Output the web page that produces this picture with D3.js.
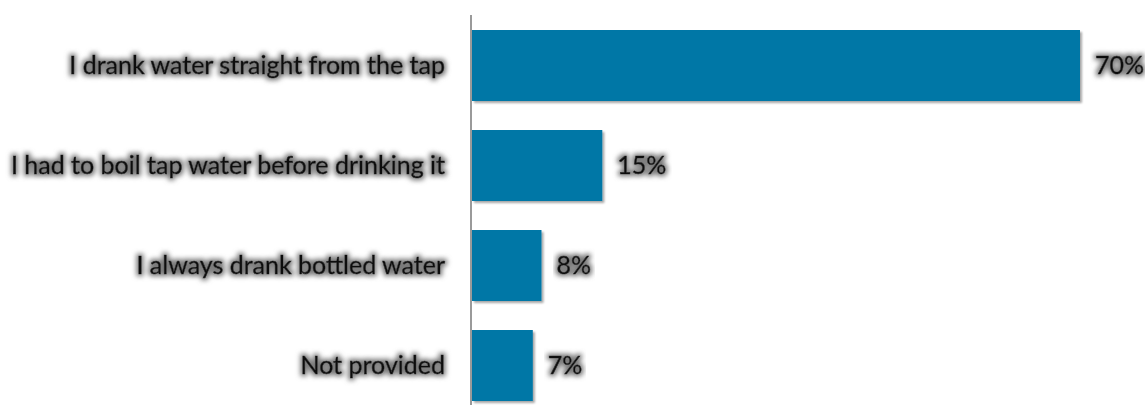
<!DOCTYPE html>
<html>
<head>
<meta charset="utf-8">
<script src="https://cdn.jsdelivr.net/npm/d3@7"></script>
<style>
  html, body { margin: 0; padding: 0; background: #fff; }
  svg { display: block; }
  text { font-family: Lato, "Liberation Sans", sans-serif; }
</style>
</head>
<body>
<script>
// Survey answers and their shares (percent)
const categories = [
  "I drank water straight from the tap",
  "I had to boil tap water before drinking it",
  "I always drank bottled water",
  "Not provided"
];
const values = [70, 15, 8, 7];
const valueLabels = ["70%", "15%", "8%", "7%"];

const W = 1145, H = 405;
const svg = d3.select("body").append("svg").attr("width", W).attr("height", H);

const defs = svg.append("defs");
// soft grey halo behind text
const glow = defs.append("filter").attr("id", "glow")
  .attr("x", "-10%").attr("y", "-50%").attr("width", "120%").attr("height", "200%");
glow.append("feMorphology").attr("in", "SourceAlpha").attr("operator", "dilate").attr("radius", 2).attr("result", "d");
glow.append("feGaussianBlur").attr("in", "d").attr("stdDeviation", 2.4).attr("result", "b");
glow.append("feFlood").attr("flood-color", "#7a7a7a").attr("flood-opacity", 1).attr("result", "c");
glow.append("feComposite").attr("in", "c").attr("in2", "b").attr("operator", "in").attr("result", "g");
const gm = glow.append("feMerge");
gm.append("feMergeNode").attr("in", "g");
gm.append("feMergeNode").attr("in", "SourceGraphic");

// subtle drop shadow under the bars
const sh = defs.append("filter").attr("id", "shadow")
  .attr("x", "-5%").attr("y", "-5%").attr("width", "115%").attr("height", "120%");
sh.append("feGaussianBlur").attr("in", "SourceAlpha").attr("stdDeviation", 1.2).attr("result", "b");
sh.append("feOffset").attr("in", "b").attr("dx", 1.5).attr("dy", 1.5).attr("result", "o");
sh.append("feComponentTransfer").attr("in", "o").attr("result", "t")
  .append("feFuncA").attr("type", "linear").attr("slope", 0.35);
const sm = sh.append("feMerge");
sm.append("feMergeNode").attr("in", "t");
sm.append("feMergeNode").attr("in", "SourceGraphic");

const x = d3.scaleLinear().domain([0, 70]).range([472, 1080]);
const y = d3.scaleBand().domain(categories).range([15.5, 415.5])
  .paddingInner(0.29).paddingOuter(0.145);

const data = categories.map((c, i) => ({ c, v: values[i], label: valueLabels[i] }));

svg.append("g").selectAll("rect").data(data).join("rect")
  .attr("x", x(0))
  .attr("y", d => y(d.c))
  .attr("width", d => x(d.v) - x(0))
  .attr("height", y.bandwidth())
  .attr("fill", "#0077a6")
  .attr("filter", "url(#shadow)");

// category axis line
svg.append("line")
  .attr("x1", 471).attr("x2", 471)
  .attr("y1", 15).attr("y2", H)
  .attr("stroke", "#9a9a9a").attr("stroke-width", 2);

const labelStyle = sel => sel
  .attr("font-size", 25)
  .attr("fill", "#111")
  .attr("stroke", "#111")
  .attr("stroke-width", 0.5)
  .attr("filter", "url(#glow)");

svg.append("g").selectAll("text").data(data).join("text")
  .attr("x", 445)
  .attr("y", d => y(d.c) + y.bandwidth() / 2)
  .attr("dy", "0.35em")
  .attr("text-anchor", "end")
  .call(labelStyle)
  .text(d => d.c);

svg.append("g").selectAll("text").data(data).join("text")
  .attr("x", d => x(d.v) + 15)
  .attr("y", d => y(d.c) + y.bandwidth() / 2)
  .attr("dy", "0.35em")
  .call(labelStyle)
  .text(d => d.label);
</script>
</body>
</html>
